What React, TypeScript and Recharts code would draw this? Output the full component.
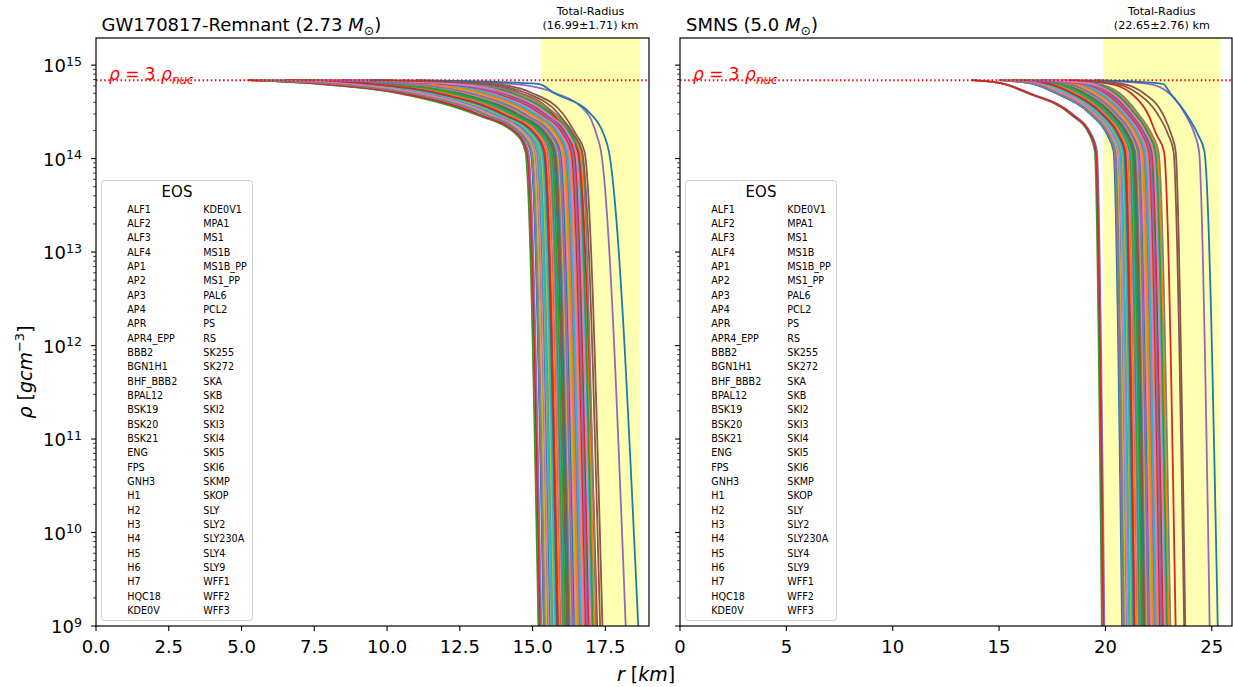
import React from 'react';
import { LineChart, Line, XAxis, YAxis, ReferenceArea, ReferenceLine } from 'recharts';

const FONT = '"DejaVu Sans", sans-serif';
const TAB10 = ['#1f77b4', '#ff7f0e', '#2ca02c', '#d62728', '#9467bd', '#8c564b', '#e377c2', '#7f7f7f', '#bcbd22', '#17becf'];

// density levels (g/cm^3) at which each profile's radius (km) is read
const RHO_NUC = 2.3e14;
const RHO_LEVELS = [6.9e14, 6.3e14, 5e14, 3e14, 1.8e14, 1.2e14, 1e9];
const Y_DOMAIN: [number, number] = [1e9, 1.95e15];
const Y_DECADES = [9, 10, 11, 12, 13, 14, 15];
const Y_MINOR_STEPS = [2, 3, 4, 5, 6, 7, 8, 9];

const EOS_NAMES = [
  'ALF1', 'ALF2', 'ALF3', 'ALF4', 'AP1', 'AP2', 'AP3', 'AP4', 'APR', 'APR4_EPP',
  'BBB2', 'BGN1H1', 'BHF_BBB2', 'BPAL12', 'BSK19', 'BSK20', 'BSK21', 'ENG', 'FPS', 'GNH3',
  'H1', 'H2', 'H3', 'H4', 'H5', 'H6', 'H7', 'HQC18', 'KDE0V', 'KDE0V1',
  'MPA1', 'MS1', 'MS1B', 'MS1B_PP', 'MS1_PP', 'PAL6', 'PCL2', 'PS', 'RS', 'SK255',
  'SK272', 'SKA', 'SKB', 'SKI2', 'SKI3', 'SKI4', 'SKI5', 'SKI6', 'SKMP', 'SKOP',
  'SLY', 'SLY2', 'SLY230A', 'SLY4', 'SLY9', 'WFF1', 'WFF2', 'WFF3',
];

// radius at each RHO_LEVELS entry, GW170817 remnant (2.73 Msun)
const REMNANT_RADII = [
  [5.56, 8.15, 10.76, 13.32, 14.63, 14.93, 15.38],
  [8.2, 11.58, 13.53, 15.13, 15.95, 16.21, 16.7],
  [7.2, 10.28, 12.48, 14.45, 15.45, 15.73, 16.2],
  [6.74, 9.68, 12.0, 14.13, 15.22, 15.5, 15.97],
  [5.3, 7.8, 10.55, 13.15, 14.55, 14.85, 15.3],
  [5.84, 8.51, 11.05, 13.51, 14.77, 15.07, 15.52],
  [6.8, 9.76, 12.06, 14.17, 15.25, 15.53, 16.0],
  [6.2, 8.98, 11.43, 13.76, 14.95, 15.24, 15.7],
  [6.06, 8.8, 11.28, 13.67, 14.88, 15.17, 15.63],
  [6.12, 8.88, 11.35, 13.71, 14.91, 15.2, 15.66],
  [5.96, 8.67, 11.18, 13.6, 14.83, 15.12, 15.58],
  [7.96, 11.27, 13.28, 14.97, 15.83, 16.09, 16.58],
  [5.2, 7.6, 10.4, 13.0, 14.45, 14.75, 15.2],
  [5.25, 7.7, 10.5, 13.1, 14.5, 14.8, 15.25],
  [5.7, 8.33, 10.9, 13.42, 14.7, 15.0, 15.45],
  [6.6, 9.5, 11.85, 14.04, 15.15, 15.43, 15.9],
  [7.6, 10.8, 12.9, 14.72, 15.65, 15.92, 16.4],
  [6.88, 9.86, 12.14, 14.23, 15.29, 15.57, 16.04],
  [5.76, 8.41, 10.97, 13.46, 14.73, 15.03, 15.48],
  [8.86, 12.44, 14.22, 15.58, 16.28, 16.53, 17.03],
  [7.68, 10.9, 12.98, 14.77, 15.69, 15.96, 16.44],
  [8.34, 11.76, 13.68, 15.23, 16.02, 16.28, 16.77],
  [8.6, 12.1, 13.95, 15.41, 16.15, 16.41, 16.9],
  [8.68, 12.2, 14.03, 15.46, 16.19, 16.44, 16.94],
  [8.04, 11.37, 13.36, 15.02, 15.87, 16.13, 16.62],
  [7.14, 10.2, 12.42, 14.4, 15.42, 15.7, 16.17],
  [8.26, 11.66, 13.59, 15.17, 15.98, 16.24, 16.73],
  [6.4, 9.24, 11.64, 13.9, 15.05, 15.34, 15.8],
  [6.28, 9.08, 11.51, 13.82, 14.99, 15.28, 15.74],
  [6.36, 9.19, 11.6, 13.87, 15.03, 15.32, 15.78],
  [7.28, 10.38, 12.56, 14.5, 15.49, 15.77, 16.24],
  [9.04, 12.67, 14.41, 15.71, 16.37, 16.62, 17.12],
  [8.94, 12.54, 14.31, 15.64, 16.32, 16.57, 17.07],
  [9.2, 13.0, 14.6, 15.7, 16.1, 16.55, 17.22],
  [10.5, 14.3, 15.8, 16.9, 17.2, 17.35, 18.2],
  [9.6, 13.6, 15.0, 16.05, 16.5, 16.78, 17.4],
  [7.76, 11.01, 13.07, 14.83, 15.73, 16.0, 16.48],
  [9.16, 12.83, 14.54, 15.79, 16.43, 16.68, 17.18],
  [7.82, 11.09, 13.13, 14.87, 15.76, 16.03, 16.51],
  [8.12, 11.48, 13.45, 15.08, 15.91, 16.17, 16.66],
  [11.0, 15.2, 15.75, 17.0, 17.45, 17.62, 18.63],
  [7.9, 11.19, 13.22, 14.93, 15.8, 16.06, 16.55],
  [6.94, 9.94, 12.21, 14.27, 15.32, 15.6, 16.07],
  [8.44, 11.89, 13.78, 15.3, 16.07, 16.33, 16.82],
  [8.52, 12.0, 13.87, 15.35, 16.11, 16.37, 16.86],
  [7.34, 10.46, 12.63, 14.54, 15.52, 15.79, 16.27],
  [8.76, 12.31, 14.12, 15.51, 16.23, 16.48, 16.98],
  [7.4, 10.54, 12.69, 14.58, 15.55, 15.82, 16.3],
  [7.48, 10.64, 12.77, 14.64, 15.59, 15.86, 16.34],
  [7.0, 10.02, 12.27, 14.31, 15.35, 15.63, 16.1],
  [6.48, 9.34, 11.72, 13.95, 15.09, 15.38, 15.84],
  [6.66, 9.58, 11.91, 14.08, 15.18, 15.46, 15.93],
  [7.04, 10.07, 12.31, 14.34, 15.37, 15.65, 16.12],
  [6.52, 9.4, 11.77, 13.98, 15.11, 15.4, 15.86],
  [7.54, 10.72, 12.84, 14.68, 15.62, 15.89, 16.37],
  [9.4, 13.3, 14.8, 15.9, 16.4, 16.7, 17.32],
  [5.9, 8.59, 11.12, 13.56, 14.8, 15.1, 15.55],
  [5.6, 8.2, 10.8, 13.35, 14.65, 14.95, 15.4],
];

// same for the supramassive NS (5.0 Msun)
const SMNS_RADII = [
  [14.98, 16.57, 17.67, 19.28, 20.08, 20.38, 20.78],
  [16.84, 18.79, 19.83, 20.91, 21.6, 21.9, 22.41],
  [16.13, 17.95, 19.01, 20.29, 21.02, 21.32, 21.79],
  [15.8, 17.55, 18.62, 20.0, 20.75, 21.05, 21.5],
  [13.75, 15.25, 16.45, 18.45, 19.35, 19.6, 19.95],
  [15.09, 16.71, 17.81, 19.38, 20.17, 20.47, 20.88],
  [15.83, 17.59, 18.66, 20.03, 20.78, 21.08, 21.53],
  [15.41, 17.09, 18.18, 19.66, 20.43, 20.73, 21.16],
  [15.32, 16.98, 18.07, 19.58, 20.36, 20.66, 21.08],
  [15.34, 17.01, 18.1, 19.6, 20.38, 20.68, 21.1],
  [15.22, 16.86, 17.95, 19.49, 20.28, 20.58, 20.99],
  [16.68, 18.6, 19.64, 20.77, 21.47, 21.77, 22.27],
  [13.7, 15.2, 16.35, 18.35, 19.25, 19.5, 19.83],
  [13.72, 15.22, 16.4, 18.4, 19.3, 19.55, 19.9],
  [15.02, 16.63, 17.73, 19.32, 20.12, 20.42, 20.82],
  [15.68, 17.42, 18.49, 19.9, 20.66, 20.96, 21.4],
  [16.43, 18.3, 19.35, 20.55, 21.26, 21.56, 22.05],
  [15.89, 17.66, 18.73, 20.08, 20.83, 21.13, 21.58],
  [15.15, 16.78, 17.87, 19.43, 20.22, 20.52, 20.93],
  [17.33, 19.37, 20.39, 21.34, 22.0, 22.3, 22.84],
  [16.47, 18.35, 19.4, 20.59, 21.3, 21.6, 22.09],
  [16.94, 18.91, 19.94, 21.0, 21.68, 21.98, 22.5],
  [17.12, 19.13, 20.16, 21.16, 21.83, 22.13, 22.66],
  [17.19, 19.21, 20.23, 21.22, 21.89, 22.19, 22.72],
  [16.72, 18.65, 19.69, 20.81, 21.5, 21.8, 22.31],
  [16.08, 17.89, 18.95, 20.25, 20.98, 21.28, 21.75],
  [16.88, 18.84, 19.88, 20.95, 21.63, 21.93, 22.45],
  [15.55, 17.25, 18.33, 19.78, 20.55, 20.85, 21.28],
  [15.47, 17.16, 18.24, 19.71, 20.48, 20.78, 21.21],
  [15.51, 17.21, 18.29, 19.75, 20.52, 20.82, 21.25],
  [16.19, 18.01, 19.07, 20.34, 21.07, 21.37, 21.84],
  [17.47, 19.55, 20.56, 21.47, 22.12, 22.42, 22.97],
  [17.39, 19.46, 20.47, 21.4, 22.05, 22.35, 22.9],
  [18.0, 20.2, 21.2, 22.0, 22.4, 22.75, 23.3],
  [19.0, 22.0, 23.0, 23.75, 24.2, 24.4, 24.9],
  [18.5, 20.8, 21.8, 22.7, 23.1, 23.3, 23.75],
  [16.52, 18.41, 19.46, 20.63, 21.34, 21.64, 22.13],
  [17.57, 19.66, 20.67, 21.55, 22.19, 22.49, 23.05],
  [16.57, 18.48, 19.52, 20.68, 21.38, 21.68, 22.18],
  [16.78, 18.72, 19.76, 20.86, 21.55, 21.85, 22.36],
  [19.5, 22.7, 23.05, 23.8, 24.35, 24.65, 25.28],
  [16.62, 18.53, 19.57, 20.72, 21.42, 21.72, 22.22],
  [15.93, 17.72, 18.78, 20.12, 20.86, 21.16, 21.62],
  [17.01, 18.99, 20.02, 21.06, 21.74, 22.04, 22.56],
  [17.06, 19.06, 20.09, 21.11, 21.78, 22.08, 22.61],
  [16.22, 18.06, 19.11, 20.37, 21.1, 21.4, 21.87],
  [17.26, 19.29, 20.31, 21.28, 21.94, 22.24, 22.78],
  [16.28, 18.12, 19.18, 20.42, 21.14, 21.44, 21.92],
  [16.32, 18.18, 19.23, 20.46, 21.18, 21.48, 21.96],
  [15.98, 17.77, 18.84, 20.16, 20.9, 21.2, 21.66],
  [15.6, 17.32, 18.4, 19.83, 20.59, 20.89, 21.33],
  [15.73, 17.47, 18.54, 19.94, 20.7, 21.0, 21.44],
  [16.03, 17.82, 18.89, 20.2, 20.94, 21.24, 21.7],
  [15.64, 17.36, 18.44, 19.86, 20.62, 20.92, 21.36],
  [16.37, 18.23, 19.28, 20.5, 21.22, 21.52, 22.0],
  [18.3, 20.5, 21.5, 22.45, 22.95, 23.2, 23.7],
  [15.26, 16.91, 18.0, 19.53, 20.31, 20.61, 21.03],
  [15.07, 16.68, 17.78, 19.36, 20.16, 20.46, 20.86],
];

const REMNANT_X_TICKS = [0, 2.5, 5, 7.5, 10, 12.5, 15, 17.5];
const SMNS_X_TICKS = [0, 5, 10, 15, 20, 25];
const REMNANT_RADIUS = { mean: 16.99, sd: 1.71 };
const SMNS_RADIUS = { mean: 22.65, sd: 2.76 };

const Y_TICKS = Y_DECADES.flatMap((d) => [10 ** d, ...Y_MINOR_STEPS.map((m) => m * 10 ** d)])
  .filter((v) => v <= Y_DOMAIN[1])
  .sort((a, b) => a - b);

function XTick({ x, y, payload, fmt }: any) {
  return (
    <g>
      <line x1={x} x2={x} y1={y} y2={y + 4.9} stroke="#000" strokeWidth={1.1} />
      <text x={x} y={y + 27.3} textAnchor="middle" fontSize={18} fontFamily={FONT} fill="#000">
        {fmt(payload.value)}
      </text>
    </g>
  );
}

function YTick({ x, y, payload, showLabel }: any) {
  const lg = Math.log10(payload.value);
  const exp = Math.round(lg);
  const major = Math.abs(lg - exp) < 1e-6;
  return (
    <g>
      <line x1={x - (major ? 4.9 : 2.8)} x2={x} y1={y} y2={y} stroke="#000" strokeWidth={major ? 1.1 : 0.8} />
      {major && showLabel && (
        <text x={x - 14} y={y + 7.3} textAnchor="end" fontSize={18} fontFamily={FONT} fill="#000">
          10<tspan fontSize={12.6} dy={-6.5}>{exp}</tspan>
        </text>
      )}
    </g>
  );
}

const bandLabel = (rad: { mean: number; sd: number }) => (props: any) => {
  const vb = props.viewBox;
  if (!vb) return null;
  const cx = vb.x + vb.width / 2;
  return (
    <text textAnchor="middle" fontSize={11.2} fontFamily={FONT} fill="#000">
      <tspan x={cx} y={vb.y - 23}>Total-Radius</tspan>
      <tspan x={cx} y={vb.y - 9.5}>({rad.mean.toFixed(2)}±{rad.sd.toFixed(2)}) km</tspan>
    </text>
  );
};

const nucLabel = (props: any) => {
  const vb = props.viewBox;
  if (!vb) return null;
  return (
    <text x={vb.x + 13} y={vb.y - 0.5} fontSize={17} fontFamily={FONT} fill="#ff0000">
      <tspan fontStyle="italic">ρ</tspan> = 3 <tspan fontStyle="italic">ρ</tspan>
      <tspan fontStyle="italic" fontSize={12} dy={4}>nuc</tspan>
    </text>
  );
};

function Panel({ left, width, margin, radii, rad, xDomain, xTicks, fmt, showYLabels }: any) {
  return (
    <div style={{ position: 'absolute', left, top: 0 }}>
      <LineChart width={width} height={687} margin={margin}>
        <XAxis
          type="number"
          dataKey="r"
          domain={xDomain}
          ticks={xTicks}
          interval={0}
          allowDataOverflow
          axisLine={false}
          tickLine={false}
          tickSize={0}
          tickMargin={0}
          height={40}
          tick={(p: any) => <XTick {...p} fmt={fmt} />}
        />
        <YAxis
          type="number"
          scale="log"
          domain={Y_DOMAIN}
          ticks={Y_TICKS}
          interval={0}
          allowDataOverflow
          axisLine={false}
          tickLine={false}
          tickSize={0}
          tickMargin={0}
          width={60}
          tick={(p: any) => <YTick {...p} showLabel={showYLabels} />}
        />
        <ReferenceArea
          x1={rad.mean - rad.sd}
          x2={rad.mean + rad.sd}
          fill="#ffff00"
          fillOpacity={0.3}
          stroke="none"
          label={bandLabel(rad)}
        />
        {EOS_NAMES.map((name, i) => (
          <Line
            key={name}
            name={name}
            data={radii[i].map((r: number, k: number) => ({ r, rho: RHO_LEVELS[k] }))}
            dataKey="rho"
            type="monotone"
            stroke={TAB10[i % 10]}
            strokeWidth={1.8}
            dot={false}
            isAnimationActive={false}
          />
        ))}
        <ReferenceLine
          y={3 * RHO_NUC}
          stroke="#ff0000"
          strokeWidth={2}
          strokeDasharray="1.5 2.6"
          label={nucLabel}
        />
      </LineChart>
    </div>
  );
}

function EosLegend({ left }: { left: number }) {
  const half = Math.ceil(EOS_NAMES.length / 2);
  return (
    <svg style={{ position: 'absolute', left, top: 180 }} width={152} height={441}>
      <rect x={0.5} y={0.5} width={151} height={440} rx={3} fill="#fff" fillOpacity={0.8} stroke="#d0d0d0" />
      <text x={76} y={16.7} textAnchor="middle" fontSize={15} fontFamily={FONT} fill="#000">EOS</text>
      {EOS_NAMES.map((n, i) => (
        <text
          key={n}
          x={i < half ? 26.3 : 102.3}
          y={32.7 + (i % half) * 14.33}
          fontSize={9.6}
          fontFamily={FONT}
          fill="#000"
        >
          {n}
        </text>
      ))}
    </svg>
  );
}

export default function App() {
  return (
    <div style={{ position: 'absolute', left: 0, top: 0, width: 1233, height: 687, background: '#fff', fontFamily: FONT }}>
      <Panel
        left={0}
        width={660}
        margin={{ top: 38, right: 11, bottom: 21, left: 36 }}
        radii={REMNANT_RADII}
        rad={REMNANT_RADIUS}
        xDomain={[0, 19.0]}
        xTicks={REMNANT_X_TICKS}
        fmt={(v: number) => v.toFixed(1)}
        showYLabels
      />
      <Panel
        left={620}
        width={613}
        margin={{ top: 38, right: 1, bottom: 21, left: 0 }}
        radii={SMNS_RADII}
        rad={SMNS_RADIUS}
        xDomain={[0, 25.95]}
        xTicks={SMNS_X_TICKS}
        fmt={(v: number) => String(v)}
        showYLabels={false}
      />
      <EosLegend left={101} />
      <EosLegend left={685} />
      <svg style={{ position: 'absolute', left: 0, top: 0, pointerEvents: 'none' }} width={1233} height={687}>
        <rect x={96} y={38} width={553} height={588} fill="none" stroke="#000" strokeWidth={1.2} />
        <rect x={680} y={38} width={552} height={588} fill="none" stroke="#000" strokeWidth={1.2} />
        <text x={101.5} y={31} fontSize={18} fontFamily={FONT} fill="#000">
          GW170817-Remnant (2.73 <tspan fontStyle="italic">M</tspan>
          <tspan fontSize={12.5} dy={4}>⊙</tspan>
          <tspan dy={-4}>)</tspan>
        </text>
        <text x={686} y={31} fontSize={18} fontFamily={FONT} fill="#000">
          SMNS (5.0 <tspan fontStyle="italic">M</tspan>
          <tspan fontSize={12.5} dy={4}>⊙</tspan>
          <tspan dy={-4}>)</tspan>
        </text>
        <text x={646} y={681} textAnchor="middle" fontSize={19} fontFamily={FONT} fill="#000">
          <tspan fontStyle="italic">r</tspan> [<tspan fontStyle="italic">km</tspan>]
        </text>
        <text transform="translate(32,372) rotate(-90)" textAnchor="middle" fontSize={19} fontFamily={FONT} fill="#000">
          <tspan fontStyle="italic">ρ</tspan> [<tspan fontStyle="italic">gcm</tspan>
          <tspan fontSize={13} dy={-8}>−3</tspan>
          <tspan dy={8}>]</tspan>
        </text>
      </svg>
    </div>
  );
}
